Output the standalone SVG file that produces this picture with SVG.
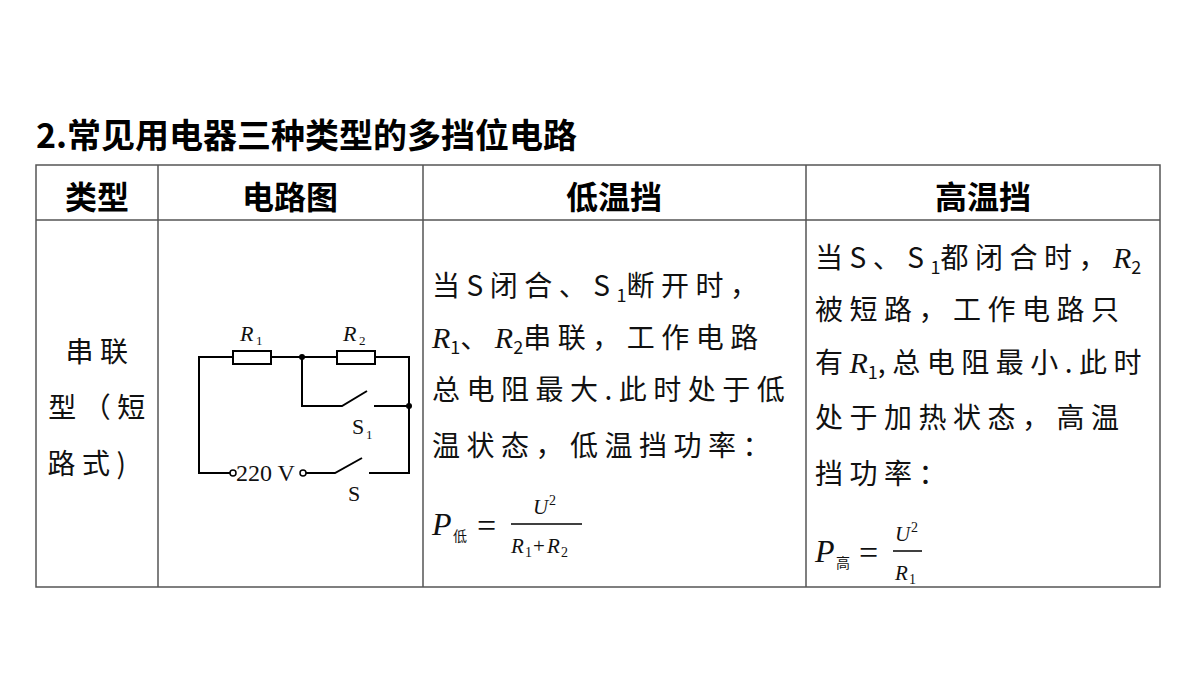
<svg xmlns="http://www.w3.org/2000/svg" width="1200" height="675" viewBox="0 0 1200 675">
<style>
.t{font-family:"Noto Sans CJK SC",sans-serif;font-size:28px;fill:#111;letter-spacing:6.5px}
.h{font-family:"Noto Sans CJK SC",sans-serif;font-size:32px;font-weight:bold;fill:#000}
.s{font-family:"Liberation Serif",serif;fill:#111}
.m{font-family:"Liberation Serif","Noto Sans CJK SC",serif;fill:#111}
.i{font-family:"Liberation Serif",serif;font-style:italic;font-size:30px;letter-spacing:0}
.b{font-size:18px;letter-spacing:0}
.w{fill:none;stroke:#000;stroke-width:2}
.g{stroke:#555;stroke-width:1.5}
</style>
<rect width="1200" height="675" fill="#fff"/>
<text x="36" y="148" class="h" style="font-size:34px">2.常见用电器三种类型的多挡位电路</text>
<g id="table">
<rect x="36" y="165" width="1124" height="422" fill="none" class="g"/>
<line x1="36" y1="220" x2="1160" y2="220" class="g"/>
<line x1="158" y1="165" x2="158" y2="587" class="g"/>
<line x1="423" y1="165" x2="423" y2="587" class="g"/>
<line x1="806" y1="165" x2="806" y2="587" class="g"/>
<text x="97" y="209" class="h" text-anchor="middle">类型</text>
<text x="290" y="209" class="h" text-anchor="middle">电路图</text>
<text x="614" y="209" class="h" text-anchor="middle">低温挡</text>
<text x="983" y="209" class="h" text-anchor="middle">高温挡</text>
<text x="100" y="362" class="t" text-anchor="middle">串联</text>
<text x="100" y="418" class="t" text-anchor="middle">型（短</text>
<text x="90" y="474" class="t" text-anchor="middle">路式)</text>
</g>
<g id="circuit">
<path class="w" d="M233 357H199V473H230M271 357H337M375 357H409V473H369M302 357V406H342L367 391M374 406H409M306 473H335L362 458"/>
<rect x="233" y="351" width="38" height="13" class="w"/>
<rect x="337" y="351" width="38" height="13" class="w"/>
<circle cx="302" cy="357" r="3"/><circle cx="409" cy="406" r="3"/>
<circle cx="233" cy="473" r="3" fill="#fff" stroke="#000" stroke-width="1.5"/>
<circle cx="303" cy="473" r="3" fill="#fff" stroke="#000" stroke-width="1.5"/>
<text x="236" y="481" class="s" font-size="24">220 V</text>
<text x="240" y="341" class="s" font-size="22" font-style="italic">R</text><text x="256" y="345" class="s" font-size="13">1</text>
<text x="343" y="341" class="s" font-size="22" font-style="italic">R</text><text x="359" y="345" class="s" font-size="13">2</text>
<text x="352" y="434" class="s" font-size="22">S</text><text x="366" y="439" class="s" font-size="13">1</text>
<text x="348" y="501" class="s" font-size="22">S</text>
</g>
<g id="low">
<text x="432" y="296" class="t">当S闭合、S<tspan class="b" dy="6">1</tspan><tspan dy="-6">断开时，</tspan></text>
<text x="432" y="348" class="t"><tspan class="i">R</tspan><tspan class="b" dy="6">1</tspan><tspan dy="-6">、</tspan><tspan class="i">R</tspan><tspan class="b" dy="6">2</tspan><tspan dy="-6">串联，工作电路</tspan></text>
<text x="432" y="400" class="t">总电阻最大.此时处于低</text>
<text x="432" y="456" class="t">温状态，低温挡功率：</text>
<text x="432" y="535" class="m" style="font-size:32px;font-style:italic">P</text>
<text x="453" y="541" class="m" style="font-size:14px">低</text>
<text x="477" y="537" class="m" style="font-size:34px">=</text>
<line x1="511" y1="524" x2="582" y2="524" stroke="#000" stroke-width="1.5"/>
<text x="533" y="514" class="m" style="font-size:21px;font-style:italic">U</text><text x="549" y="505" class="m" style="font-size:14px">2</text>
<text x="511" y="553" class="m" style="font-size:21px;font-style:italic">R</text><text x="525" y="557" class="m" style="font-size:14px">1</text>
<text x="533" y="553" class="m" style="font-size:21px">+</text>
<text x="547" y="553" class="m" style="font-size:21px;font-style:italic">R</text><text x="561" y="557" class="m" style="font-size:14px">2</text>
</g>
<g id="high">
<text x="815" y="268" class="t">当S、S<tspan class="b" dy="6">1</tspan><tspan dy="-6">都闭合时，</tspan><tspan class="i">R</tspan><tspan class="b" dy="6">2</tspan></text>
<text x="815" y="320" class="t">被短路，工作电路只</text>
<text x="815" y="373" class="t">有<tspan class="i">R</tspan><tspan class="b" dy="6">1</tspan><tspan dy="-6">,总电阻最小.此时</tspan></text>
<text x="815" y="428" class="t">处于加热状态，高温</text>
<text x="815" y="484" class="t">挡功率：</text>
<text x="815" y="562" class="m" style="font-size:32px;font-style:italic">P</text>
<text x="836" y="568" class="m" style="font-size:14px">高</text>
<text x="859" y="564" class="m" style="font-size:34px">=</text>
<line x1="893" y1="551" x2="922" y2="551" stroke="#000" stroke-width="1.5"/>
<text x="895" y="541" class="m" style="font-size:21px;font-style:italic">U</text><text x="911" y="532" class="m" style="font-size:14px">2</text>
<text x="895" y="580" class="m" style="font-size:21px;font-style:italic">R</text><text x="909" y="584" class="m" style="font-size:14px">1</text>
</g>
</svg>
